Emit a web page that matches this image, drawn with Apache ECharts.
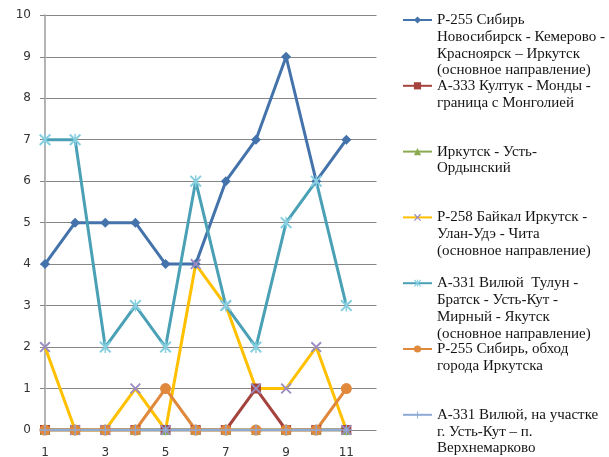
<!DOCTYPE html>
<html>
<head>
<meta charset="utf-8">
<script src="https://cdn.jsdelivr.net/npm/echarts@6/dist/echarts.min.js"></script>
<style>
  html, body { margin: 0; padding: 0; background: #ffffff; }
  #chart { width: 609px; height: 457px; }
</style>
</head>
<body>
<div id="chart"></div>
<script>
// Months / periods on the category axis (the last slot is left empty)
const categories = ['1', '2', '3', '4', '5', '6', '7', '8', '9', '10', '11', '12'];

// Counts per road
const r255Main   = [4, 5, 5, 5, 4, 4, 6, 7, 9, 6, 7];
const a333       = [0, 0, 0, 0, 0, 0, 0, 1, 0, 0, 0];
const irkUstOrd  = [0, 0, 0, 0, 0, 0, 0, 0, 0, 0, 0];
const r258       = [2, 0, 0, 1, 0, 4, 3, 1, 1, 2, 0];
const a331Main   = [7, 7, 2, 3, 2, 6, 3, 2, 5, 6, 3];
const r255Bypass = [0, 0, 0, 0, 1, 0, 0, 0, 0, 0, 1];
const a331UstKut = [0, 0, 0, 0, 0, 0, 0, 0, 0, 0, 0];

// Road names as they wrap in the legend
const seriesNames = [
  'Р-255 Сибирь\nНовосибирск - Кемерово -\nКрасноярск – Иркутск\n(основное направление)',
  'А-333 Култук - Монды -\nграница с Монголией',
  'Иркутск - Усть-\nОрдынский',
  'Р-258 Байкал Иркутск -\nУлан-Удэ - Чита\n(основное направление)',
  'А-331 Вилюй  Тулун -\nБратск - Усть-Кут -\nМирный - Якутск\n(основное направление)',
  'Р-255 Сибирь, обход\nгорода Иркутска',
  'А-331 Вилюй, на участке\nг. Усть-Кут – п.\nВерхнемарково'
];

// Marker shapes drawn as filled paths
const X_MARK = 'path://M0,1.2 L1.2,0 L10,8.8 L8.8,10 Z M8.8,0 L10,1.2 L1.2,10 L0,8.8 Z';
const STAR_MARK = X_MARK + ' M4.4,0 L5.6,0 L5.6,10 L4.4,10 Z';
const PLUS_MARK = 'path://M4.4,0 L5.6,0 L5.6,10 L4.4,10 Z M0,4.4 L10,4.4 L10,5.6 L0,5.6 Z';

const seriesDefs = [
  { data: r255Main,   line: '#4472ab', mark: '#4472ab', symbol: 'diamond',  size: 10, width: 3 },
  { data: a333,       line: '#a5443f', mark: '#a5443f', symbol: 'rect',     size: 10, width: 3 },
  { data: irkUstOrd,  line: '#8aab4f', mark: '#8aab4f', symbol: 'triangle', size: 10, width: 3 },
  { data: r258,       line: '#ffc000', mark: '#9a8cc2', symbol: X_MARK,     size: 11, width: 3 },
  { data: a331Main,   line: '#4aa0b5', mark: '#86cfe0', symbol: STAR_MARK,  size: 12, width: 3 },
  { data: r255Bypass, line: '#e0893c', mark: '#e0893c', symbol: 'circle',   size: 11, width: 3 },
  { data: a331UstKut, line: '#8eaad6', mark: '#8eaad6', symbol: PLUS_MARK,  size: 11, width: 2.5 }
];

const LEGEND_FONT = 15;
const LEGEND_LINE = 16.8;

const series = seriesDefs.map((d, i) => ({
  name: seriesNames[i],
  type: 'line',
  data: d.data,
  symbol: d.symbol,
  symbolSize: d.size,
  showAllSymbol: true,
  lineStyle: { color: d.line, width: d.width },
  itemStyle: { color: d.mark, borderWidth: 0 },
  emphasis: { disabled: true },
  animation: false
}));

// One legend block per road, stacked down the right side.
// Blank lines are put before the label so that its first line sits level with the icon.
const legends = seriesNames.map((name, i) => {
  const lines = name.split('\n').length;
  const iconCenter = 20 + i * 65.8;
  const blockLines = 2 * lines - 1;
  return {
    orient: 'vertical',
    left: 402,
    top: iconCenter - blockLines * LEGEND_LINE / 2,
    padding: 0,
    itemWidth: 29,
    itemHeight: 9,
    selectedMode: false,
    data: [name],
    formatter: (n) => '\n'.repeat(lines - 1) + n,
    textStyle: {
      fontFamily: 'Liberation Serif',
      fontSize: LEGEND_FONT,
      lineHeight: LEGEND_LINE,
      color: '#141414'
    }
  };
});

const chart = echarts.init(document.getElementById('chart'), null, { renderer: 'canvas' });
chart.setOption({
  backgroundColor: '#ffffff',
  animation: false,
  grid: {
    left: 45, right: 232.5, top: 15.3, bottom: 27,
    containLabel: false,
    outerBoundsMode: 'none'
  },
  legend: legends,
  xAxis: {
    type: 'category',
    data: categories,
    boundaryGap: false,
    axisLine: { show: false },
    axisTick: { show: false },
    axisLabel: {
      interval: 1,
      margin: 17,
      fontFamily: 'DejaVu Sans',
      fontSize: 12,
      color: '#333333'
    },
    splitLine: { show: false }
  },
  yAxis: {
    type: 'value',
    min: 0,
    max: 10,
    interval: 1,
    axisLine: { show: true, onZero: false, lineStyle: { color: '#b4b4b4', width: 2 } },
    axisTick: { show: true, length: 5, lineStyle: { color: '#868686', width: 1 } },
    axisLabel: {
      margin: 14,
      fontFamily: 'DejaVu Sans',
      fontSize: 12,
      color: '#333333'
    },
    splitLine: { show: true, lineStyle: { color: '#868686', width: 1 } }
  },
  series: series
});
</script>
</body>
</html>
